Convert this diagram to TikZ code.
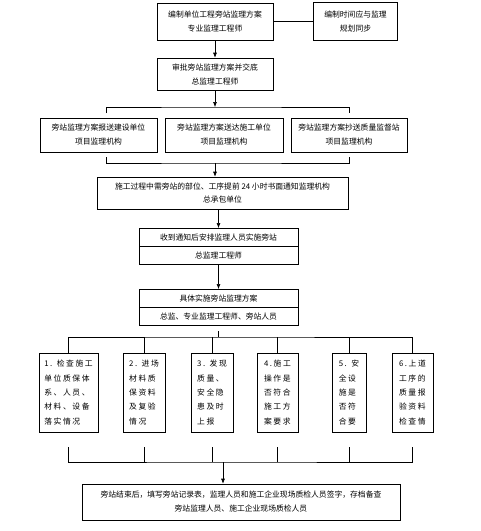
\documentclass[tikz,border=0pt]{standalone}
\usepackage{fontspec}
\setmainfont{Noto Sans CJK SC}
\newfontfamily\widecjk[LetterSpace=20]{Noto Sans CJK SC}
\usetikzlibrary{arrows.meta}
\usetikzlibrary{shapes.multipart}

\begin{document}
\begin{tikzpicture}[x=1pt,y=-1pt,
    box/.style={draw,line width=0.6pt,inner sep=0pt,align=center,font=\fontsize{7.8}{14}\selectfont},
    col/.style={box,minimum height=79,align=left,font=\widecjk\fontsize{7.8}{14.3}\selectfont},
    split/.style={box,rectangle split,rectangle split parts=2,minimum width=159,inner ysep=5pt},
    arr/.style={-{Latex[length=5pt,width=4pt]},line width=0.6pt},
    ln/.style={line width=0.6pt}]
          \fill[white] (0,0) rectangle (481,531);
          \useasboundingbox (0,0) rectangle (481,531);
          \node[box,minimum width=116,minimum height=37] (P1) at (215,21.5) {编制单位工程旁站监理方案\\专业监理工程师};
          \node[box,minimum width=84,minimum height=38] (Q) at (355.5,21.5) {编制时间应与监理\\规划同步};
          \node[box,minimum width=116,minimum height=32] (P2) at (215,74) {审批旁站监理方案并交底\\总监理工程师};
          \node[box,minimum width=117,minimum height=34] (R1) at (98.5,135) {旁站监理方案报送建设单位\\项目监理机构};
          \node[box,minimum width=118,minimum height=34] (R2) at (224,135) {旁站监理方案送达施工单位\\项目监理机构};
          \node[box,minimum width=116,minimum height=34] (R3) at (349,135) {旁站监理方案抄送质量监督站\\项目监理机构};
          \node[box,minimum width=251,minimum height=32,font=\fontsize{7.8}{13}\selectfont] (P4) at (222.5,193)
            {施工过程中需旁站的部位、工序提前 24 小时书面通知监理机构\\总承包单位};
          \node[split,anchor=north] (P5) at (218.5,228) {收到通知后安排监理人员实施旁站\nodepart{two}总监理工程师};
          \node[split,anchor=north] (P6) at (218.5,289) {具体实施旁站监理方案\nodepart{two}总监、专业监理工程师、旁站人员};
          \node[col,minimum width=59] (S1) at (68.5,392.5) {1. 检查施工\\单位质保体\\系、人员、\\材料、设备\\落实情况};
          \node[col,minimum width=42] (S2) at (144,392.5) {2. 进场\\材料质\\保资料\\及复验\\情况};
          \node[col,minimum width=42] (S3) at (212,392.5) {3. 发现\\质量、\\安全隐\\患及时\\上报};
          \node[col,minimum width=41] (S4) at (277.5,392.5) {4.施工\\操作是\\否符合\\施工方\\案要求};
          \node[col,minimum width=34] (S5) at (349,392.5) {5. 安\\全设\\施是\\否符\\合要};
          \node[col,minimum width=41] (S6) at (412.5,392.5) {6.上道\\工序的\\质量报\\验资料\\检查情};
          \node[box,minimum width=318,minimum height=36] (P7) at (241,502)
            {旁站结束后，填写旁站记录表，监理人员和施工企业现场质检人员签字，存档备查\\旁站监理人员、施工企业现场质检人员};
          \coordinate (J1) at (215,107);
          \coordinate (T1) at (106,113);
          \coordinate (T2) at (349,113);
          \coordinate (U1) at (106,157);
          \coordinate (U2) at (349,157);
          \coordinate (J2) at (215,163);
          \coordinate (J3) at (218.5,331);
          \coordinate (J4) at (218.5,337);
          \coordinate (J5) at (223,462);
          \draw[ln] (P1) -- (Q);
          \draw[arr] (P1) -- (P2);
          \draw[arr] (P2) -- (J1);
          \draw[ln] (T1) |- (J1) -| (T2);
          \draw[ln] (U1) |- (J2) -| (U2);
          \draw[arr] (J2) -- (J2 |- P4.north);
          \draw[arr] (P4.south -| P5.north) -- (P5.north);
          \draw[arr] (P5.south) -- (P6.north);
          \draw[ln] (J3) -- (J4);
          \draw[ln] (S1.north) |- (J4) -| (S6.north);
          \draw[ln] ([yshift=-15pt]S1.south) |- (J5) -| ([yshift=-15pt]S6.south);
          \foreach \i in {2,...,5} {
            \draw[ln] (S\i.north) -- (S\i.north |- J4);
            \draw[ln] ([yshift=-15pt]S\i.south) -- (S\i.south |- J5);
          }
          \draw[arr] (J5) -- (J5 |- P7.north);
        \end{tikzpicture}
\end{document}
